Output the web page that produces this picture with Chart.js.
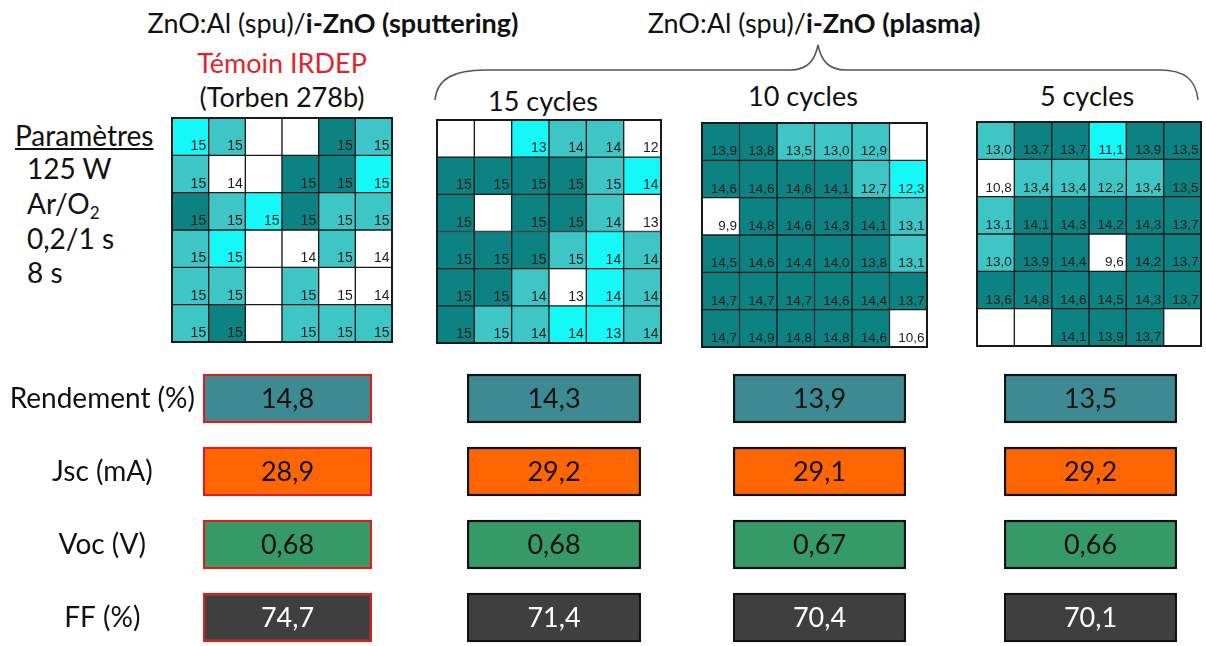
<!DOCTYPE html>
<html lang="fr">
<head>
<meta charset="UTF-8">
<title>ZnO:Al / i-ZnO</title>
<script src="https://cdn.jsdelivr.net/npm/chart.js"></script>
<style>
  body { margin: 0; width: 1206px; height: 646px; background: #fff; position: relative; overflow: hidden;
         font-family: Lato, "Open Sans", sans-serif; color: #111; }
  canvas { position: absolute; }
  .t { position: absolute; white-space: nowrap; line-height: 1; }
  .c { transform: translateX(-50%); }
  .h { font-size: 27px; }
  .p { font-size: 28px; }
  sub { font-size: 17px; vertical-align: -5px; }
</style>
</head>
<body>
  <!-- titres -->
  <div class="t c h" style="left:333px; top:9px;">ZnO:Al (spu)/<b>i-ZnO (sputtering)</b></div>
  <div class="t c h" style="left:282px; top:49px; color:#e3232b;">Témoin IRDEP</div>
  <div class="t c h" style="left:282px; top:83px;">(Torben 278b)</div>
  <div class="t c h" style="left:814px; top:9px;">ZnO:Al (spu)/<b>i-ZnO (plasma)</b></div>
  <div class="t c h" style="left:543px; top:87px;">15 cycles</div>
  <div class="t c h" style="left:803px; top:82px;">10 cycles</div>
  <div class="t c h" style="left:1087px; top:82px;">5 cycles</div>

  <!-- accolade -->
  <svg style="position:absolute; left:0; top:0;" width="1206" height="130">
    <path d="M435,100 C437,78 455,70 485,70 L790,70 C808,70 815,60 818,45 C821,60 828,70 846,70 L1160,70 C1185,70 1196,80 1198,100"
          fill="none" stroke="#555" stroke-width="1.5"/>
  </svg>

  <!-- paramètres -->
  <div class="t p" style="left:15px; top:121px; text-decoration:underline;">Paramètres</div>
  <div class="t p" style="left:27px; top:154px;">125 W</div>
  <div class="t p" style="left:27px; top:189px;">Ar/O<sub>2</sub></div>
  <div class="t p" style="left:27px; top:224px;">0,2/1 s</div>
  <div class="t p" style="left:27px; top:258px;">8 s</div>

  <!-- cartographies -->
  <canvas id="g1" width="222" height="226" style="left:171px; top:117px;"></canvas>
  <canvas id="g2" width="226" height="225" style="left:436px; top:119px;"></canvas>
  <canvas id="g3" width="227" height="226" style="left:701px; top:122px;"></canvas>
  <canvas id="g4" width="226" height="226" style="left:976px; top:121px;"></canvas>

  <!-- résultats -->
  <canvas id="b1" width="372" height="292" style="left:0px; top:362px;"></canvas>
  <canvas id="b2" width="174" height="292" style="left:467px; top:362px;"></canvas>
  <canvas id="b3" width="173" height="292" style="left:733px; top:362px;"></canvas>
  <canvas id="b4" width="173" height="292" style="left:1004px; top:362px;"></canvas>

<script>
// colonnes des cartographies
const gridCols = ['1', '2', '3', '4', '5', '6'];

// Témoin IRDEP (sputtering) : rendement par cellule, null = cellule vide
const g1Values = [
  [15, 15, null, null, 15, 15],
  [15, 14, null, 15, 15, 15],
  [15, 15, 15, 15, 15, 15],
  [15, 15, null, 14, 15, 14],
  [15, 15, null, 15, 15, 14],
  [15, 15, null, 15, 15, 15]
];
// classe de couleur (0 blanc, 1 cyan, 2 moyen, 3 foncé)
const g1Levels = [
  [1, 2, 0, 0, 3, 2],
  [2, 0, 0, 3, 3, 1],
  [3, 2, 1, 3, 2, 2],
  [2, 1, 0, 0, 2, 0],
  [2, 2, 0, 2, 0, 0],
  [2, 3, 0, 2, 2, 2]
];

// 15 cycles
const g2Values = [
  [null, null, 13, 14, 14, 12],
  [15, 15, 15, 15, 15, 14],
  [15, null, 15, 15, 14, 13],
  [15, 15, 15, 15, 14, 14],
  [15, 15, 14, 13, 14, 14],
  [15, 15, 14, 14, 13, 14]
];
const g2Levels = [
  [0, 0, 1, 2, 2, 0],
  [3, 3, 3, 3, 2, 1],
  [3, 0, 3, 3, 2, 0],
  [3, 3, 3, 2, 1, 2],
  [3, 3, 2, 0, 1, 2],
  [3, 2, 2, 1, 1, 2]
];

// 10 cycles
const g3Values = [
  [13.9, 13.8, 13.5, 13.0, 12.9, null],
  [14.6, 14.6, 14.6, 14.1, 12.7, 12.3],
  [9.9, 14.8, 14.6, 14.3, 14.1, 13.1],
  [14.5, 14.6, 14.4, 14.0, 13.8, 13.1],
  [14.7, 14.7, 14.7, 14.6, 14.4, 13.7],
  [14.7, 14.9, 14.8, 14.8, 14.6, 10.6]
];
const g3Levels = [
  [3, 3, 2, 2, 2, 0],
  [3, 3, 3, 3, 2, 1],
  [0, 3, 3, 3, 3, 2],
  [3, 3, 3, 3, 3, 2],
  [3, 3, 3, 3, 3, 3],
  [3, 3, 3, 3, 3, 0]
];

// 5 cycles
const g4Values = [
  [13.0, 13.7, 13.7, 11.1, 13.9, 13.5],
  [10.8, 13.4, 13.4, 12.2, 13.4, 13.5],
  [13.1, 14.1, 14.3, 14.2, 14.3, 13.7],
  [13.0, 13.9, 14.4, 9.6, 14.2, 13.7],
  [13.6, 14.8, 14.6, 14.5, 14.3, 13.7],
  [null, null, 14.1, 13.9, 13.7, null]
];
const g4Levels = [
  [2, 3, 3, 1, 3, 3],
  [0, 2, 2, 2, 2, 3],
  [2, 3, 3, 3, 3, 3],
  [2, 3, 3, 0, 3, 3],
  [3, 3, 3, 3, 3, 3],
  [0, 0, 3, 3, 3, 0]
];

// paramètres moyens : témoin, 15, 10, 5 cycles
const metricLabels = ['Rendement (%)', 'Jsc (mA)', 'Voc (V)', 'FF (%)'];
const rendement = [14.8, 14.3, 13.9, 13.5];
const jsc = [28.9, 29.2, 29.1, 29.2];
const voc = [0.68, 0.68, 0.67, 0.66];
const ff = [74.7, 71.4, 70.4, 70.1];
const metricDigits = [1, 1, 2, 1];

const levelColors = ['#ffffff', '#14f8f8', '#3ec6c6', '#0c8282'];
const metricColors = ['#3d8a93', '#ff6600', '#369a66', '#3f3f3f'];
const metricText = ['#111', '#111', '#111', '#fff'];

const fmt = (v, d) => v.toFixed(d).replace('.', ',');

// texte dans chaque cellule (en bas à droite)
function cellText(values, digits, size) {
  return {
    id: 'cellText',
    afterDatasetsDraw(chart) {
      const ctx = chart.ctx;
      ctx.save();
      ctx.font = size + 'px "Liberation Sans", Arial, sans-serif';
      ctx.fillStyle = '#1c1c1c';
      ctx.textAlign = 'right';
      ctx.textBaseline = 'alphabetic';
      values.forEach((row, r) => {
        chart.getDatasetMeta(r).data.forEach((bar, c) => {
          const v = row[c];
          if (v === null) return;
          ctx.fillText(fmt(v, digits), bar.x + bar.width / 2 - 2.5, Math.max(bar.y, bar.base) - 5);
        });
      });
      ctx.restore();
    }
  };
}

// cadre extérieur
const frame = {
  id: 'frame',
  afterDatasetsDraw(chart) {
    const a = chart.chartArea, ctx = chart.ctx;
    ctx.save();
    ctx.strokeStyle = '#1a1a1a';
    ctx.lineWidth = 2;
    ctx.strokeRect(a.left, a.top, a.right - a.left, a.bottom - a.top);
    ctx.restore();
  }
};

function makeGrid(id, values, levels, digits, size) {
  const datasets = values.map((row, r) => ({
    data: row.map(() => [r, r + 1]),
    backgroundColor: levels[r].map(l => levelColors[l]),
    borderColor: '#1a1a1a',
    borderWidth: 1,
    borderSkipped: false,
    grouped: false,
    barPercentage: 1,
    categoryPercentage: 1
  }));
  new Chart(document.getElementById(id), {
    type: 'bar',
    data: { labels: gridCols, datasets: datasets },
    options: {
      responsive: false,
      animation: false,
      layout: { padding: 1 },
      plugins: { legend: { display: false }, tooltip: { enabled: false } },
      scales: {
        x: { display: false },
        y: { display: false, min: 0, max: 6, reverse: true }
      }
    },
    plugins: [cellText(values, digits, size), frame]
  });
}

makeGrid('g1', g1Values, g1Levels, 0, 14);
makeGrid('g2', g2Values, g2Levels, 0, 14);
makeGrid('g3', g3Values, g3Levels, 1, 13.5);
makeGrid('g4', g4Values, g4Levels, 1, 13.5);

// valeur au centre de chaque case
function boxText(vals) {
  return {
    id: 'boxText',
    afterDatasetsDraw(chart) {
      const ctx = chart.ctx;
      ctx.save();
      ctx.font = '27px Lato, sans-serif';
      ctx.textAlign = 'center';
      ctx.textBaseline = 'middle';
      chart.getDatasetMeta(0).data.forEach((bar, i) => {
        ctx.fillStyle = metricText[i];
        ctx.fillText(fmt(vals[i], metricDigits[i]), (bar.x + bar.base) / 2, bar.y + 1);
      });
      ctx.restore();
    }
  };
}

function makeBoxes(id, col) {
  const vals = [rendement[col], jsc[col], voc[col], ff[col]];
  const first = col === 0;
  new Chart(document.getElementById(id), {
    type: 'bar',
    data: {
      labels: metricLabels,
      datasets: [{
        data: metricLabels.map(() => [0, 1]),
        backgroundColor: metricColors,
        borderColor: first ? '#d8201f' : '#111',
        borderWidth: 2.5,
        borderSkipped: false,
        barThickness: 49
      }]
    },
    options: {
      indexAxis: 'y',
      responsive: false,
      animation: false,
      layout: { padding: 0 },
      plugins: { legend: { display: false }, tooltip: { enabled: false } },
      scales: {
        x: { display: false, min: 0, max: 1 },
        y: {
          display: first,
          grid: { display: false },
          border: { display: false },
          ticks: { color: '#111', font: { family: 'Lato', size: 28 }, crossAlign: 'center', padding: 0 },
          afterFit(s) {
            if (!first) return;
            s.width = 203;
            s.paddingTop = 0;
            s.paddingBottom = 0;
          }
        }
      }
    },
    plugins: [boxText(vals)]
  });
}

makeBoxes('b1', 0);
makeBoxes('b2', 1);
makeBoxes('b3', 2);
makeBoxes('b4', 3);
</script>
</body>
</html>
